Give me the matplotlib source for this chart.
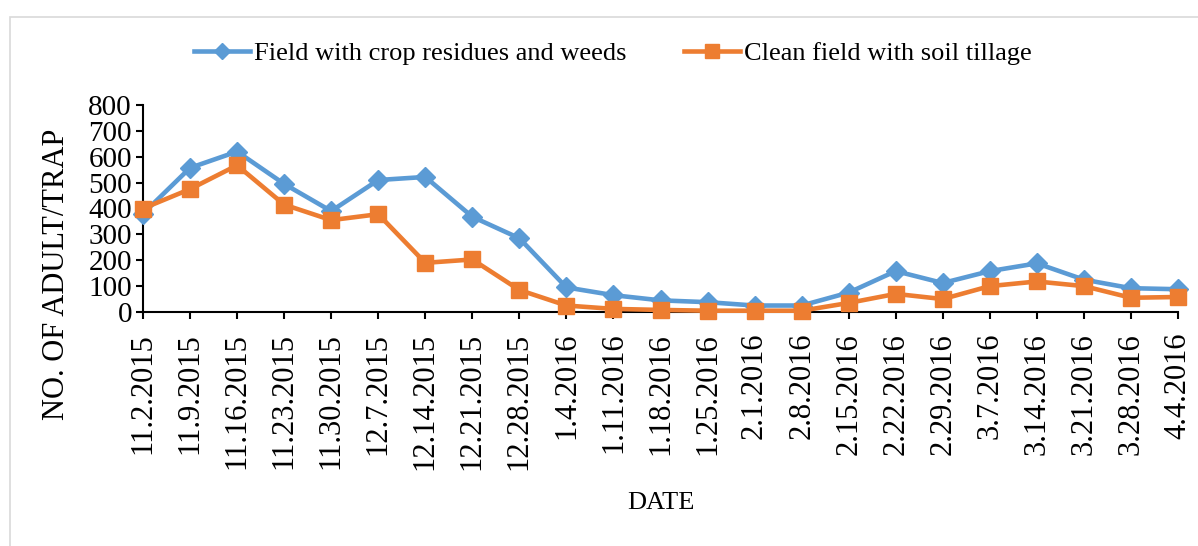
import matplotlib.pyplot as plt
from matplotlib.patches import Rectangle

dates = ['11.2.2015', '11.9.2015', '11.16.2015', '11.23.2015', '11.30.2015',
         '12.7.2015', '12.14.2015', '12.21.2015', '12.28.2015', '1.4.2016',
         '1.11.2016', '1.18.2016', '1.25.2016', '2.1.2016', '2.8.2016',
         '2.15.2016', '2.22.2016', '2.29.2016', '3.7.2016', '3.14.2016',
         '3.21.2016', '3.28.2016', '4.4.2016']
residues = [380, 557, 620, 495, 390, 510, 522, 368, 285, 95, 65, 45, 38, 25,
            25, 75, 158, 112, 158, 188, 125, 92, 88]
tillage = [400, 475, 567, 415, 355, 378, 190, 203, 85, 25, 12, 8, 5, 5, 5,
           35, 70, 50, 100, 118, 100, 55, 58]

plt.rcParams['font.family'] = ['Liberation Serif', 'DejaVu Serif']

W, H = 1198, 546
fig = plt.figure(figsize=(W / 100, H / 100), dpi=100)
# light grey chart-area border (Excel style)
fig.patches.append(Rectangle((10 / W, -0.1), 1.2, 1 - 17 / H + 0.1,
                             transform=fig.transFigure, fill=False,
                             edgecolor='#d9d9d9', linewidth=1.2))
ax = fig.add_axes([143 / W, 1 - 312 / H, 1035 / W, 207 / H])

x = list(range(len(dates)))
ax.plot(x, residues, color='#5b9bd5', lw=3.3, marker='D', ms=10,
        label='Field with crop residues and weeds', clip_on=False, zorder=3)
ax.plot(x, tillage, color='#ed7d31', lw=3.3, marker='s', ms=12,
        label='Clean field with soil tillage', clip_on=False, zorder=4)

ax.set_xlim(0, len(dates) - 1)
ax.set_ylim(0, 800)
ax.set_yticks(range(0, 801, 100))
ax.set_xticks(x)
ax.set_xticklabels(dates, rotation=90)
ax.tick_params(axis='both', direction='out', length=5, width=1.5,
               colors='black')
ax.tick_params(axis='y', labelsize=21, pad=3)
ax.tick_params(axis='x', labelsize=22, pad=10)
ax.spines['top'].set_visible(False)
ax.spines['right'].set_visible(False)
ax.spines['left'].set_linewidth(1.5)
ax.spines['bottom'].set_linewidth(1.5)

ax.set_ylabel('NO. OF ADULT/TRAP', fontsize=22)
ax.yaxis.set_label_coords((57 - 143) / 1035, (312 - 274) / 207)
ax.set_xlabel('DATE', fontsize=19)
ax.xaxis.set_label_coords(0.5, -(503 - 312) / 207)
ax.xaxis.label.set_va('center')
ax.yaxis.label.set_va('center')

ax.legend(loc='center', bbox_to_anchor=((613 - 143) / 1035, (312 - 53) / 207),
          ncol=2, frameon=False, fontsize=19, columnspacing=2.2,
          handlelength=2.1, handletextpad=0.15, markerscale=0.8)

fig.savefig('out.png', dpi=100)
